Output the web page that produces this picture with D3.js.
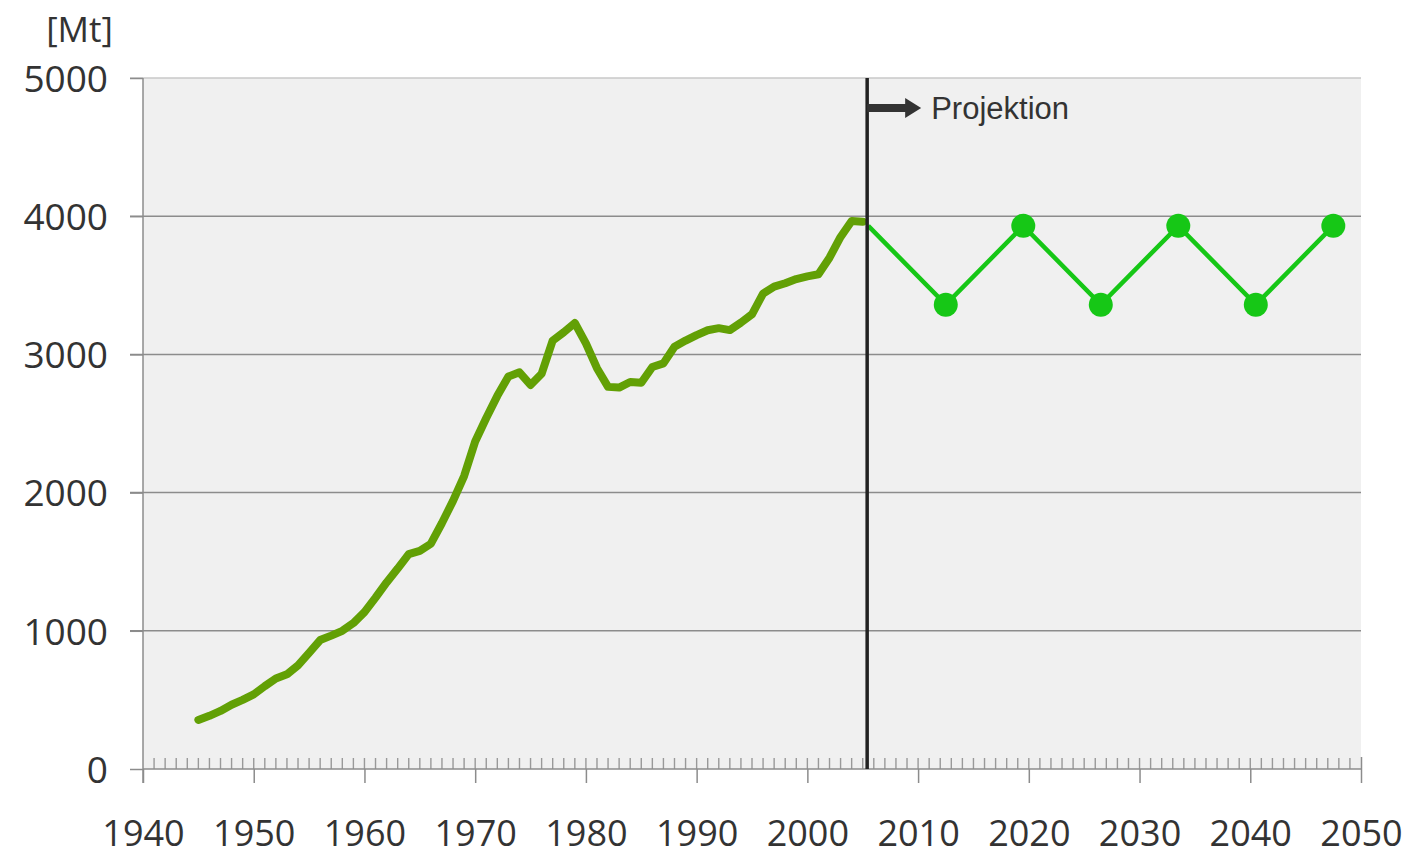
<!DOCTYPE html>
<html>
<head>
<meta charset="utf-8">
<script src="https://cdn.jsdelivr.net/npm/d3@7"></script>
<style>
  body { margin: 0; background: #fff; }
  #chart text { font-family: "Open Sans", sans-serif; }
</style>
</head>
<body>
<div id="chart"></div>
<script>
// historical series, one value per year [Mt]
var years_hist = [1945,1946,1947,1948,1949,1950,1951,1952,1953,1954,
                  1955,1956,1957,1958,1959,1960,1961,1962,1963,1964,
                  1965,1966,1967,1968,1969,1970,1971,1972,1973,1974,
                  1975,1976,1977,1978,1979,1980,1981,1982,1983,1984,
                  1985,1986,1987,1988,1989,1990,1991,1992,1993,1994,
                  1995,1996,1997,1998,1999,2000,2001,2002,2003,2004,2005];
var values_hist = [355,385,420,465,500,540,600,655,685,750,
                   840,933,965,1000,1056,1135,1240,1350,1450,1555,
                   1578,1630,1780,1940,2120,2370,2540,2700,2840,2870,
                   2779,2860,3100,3160,3227,3080,2900,2765,2760,2800,
                   2795,2909,2935,3055,3100,3140,3175,3190,3176,3230,
                   3290,3440,3490,3515,3545,3565,3580,3700,3850,3965,3960];

// projection series
var years_proj = [2005.5, 2012.5, 2019.5, 2026.5, 2033.5, 2040.5, 2047.5];
var values_proj = [3930, 3360, 3930, 3360, 3930, 3360, 3930];

var y_ticks = [0, 1000, 2000, 3000, 4000, 5000];
var x_ticks = [1940, 1950, 1960, 1970, 1980, 1990, 2000, 2010, 2020, 2030, 2040, 2050];
var projection_year = 2005.4;
var projection_label = "Projektion";
var unit_label = "[Mt]";

var full_width = 1412, full_height = 856;
var margin = {'top': 78, 'right': 51, 'bottom': 87, 'left': 143};
var width = full_width - margin.left - margin.right;
var height = full_height - margin.top - margin.bottom;

var svg = d3.select("#chart")
            .append("svg")
            .attr("width", full_width)
            .attr("height", full_height);

var g = svg.append("g")
           .attr("transform", "translate(" + margin.left + "," + margin.top + ")");

var x = d3.scaleLinear().domain([1940, 2050]).range([0, width]);
var y = d3.scaleLinear().domain([0, 5000]).range([height, 0]);

// plot background
g.append("rect")
 .attr("x", 0).attr("y", 0)
 .attr("width", width).attr("height", height)
 .attr("fill", "#f0f0f0");

// gridlines
g.selectAll(".grid")
 .data(y_ticks.filter(d => d > 0))
 .enter().append("line")
 .attr("class", "grid")
 .attr("x1", -13).attr("x2", width)
 .attr("y1", d => y(d)).attr("y2", d => y(d))
 .attr("stroke", d => d == 5000 ? "#c8c8c8" : "#8c8c8c")
 .attr("stroke-width", 1.5);

// y axis
var y_axis = d3.axisLeft(y).tickValues(y_ticks).tickSize(13).tickPadding(22)
               .tickFormat(d3.format("d"));
var gy = g.append("g").call(y_axis);
gy.select(".domain").attr("stroke", "#8c8c8c").attr("stroke-width", 1.5)
  .attr("d", "M0," + (height + 14) + "V0");
gy.selectAll(".tick line").attr("stroke", "#8c8c8c").attr("stroke-width", 1.5);
gy.selectAll(".tick text").attr("font-size", "37px").attr("fill", "#333")
  .attr("dy", "0.36em");

// x axis, minor ticks every year pointing up
var minor_years = d3.range(1941, 2050);
g.selectAll(".minor")
 .data(minor_years)
 .enter().append("line")
 .attr("class", "minor")
 .attr("x1", d => x(d)).attr("x2", d => x(d))
 .attr("y1", height - 11).attr("y2", height)
 .attr("stroke", "#999")
 .attr("stroke-width", 1.4);

var x_axis = d3.axisBottom(x).tickValues(x_ticks).tickSize(14).tickPadding(45)
               .tickFormat(d3.format("d"));
var gx = g.append("g").attr("transform", "translate(0," + height + ")").call(x_axis);
gx.select(".domain").attr("stroke", "#8c8c8c").attr("stroke-width", 1.5)
  .attr("d", "M0,0H" + width);
gx.selectAll(".tick line").attr("stroke", "#8c8c8c").attr("stroke-width", 1.5);
gx.selectAll(".tick text").attr("font-size", "36px").attr("fill", "#333")
  .attr("dy", "0.5em");
gx.select(".tick:last-of-type line").attr("y1", -12);

// unit label
g.append("text")
 .attr("x", -30).attr("y", -36)
 .attr("text-anchor", "end")
 .attr("font-size", "35px")
 .attr("fill", "#333")
 .text(unit_label);

// historical line
var hist = years_hist.map((d, i) => ({year: d, value: values_hist[i]}));
var line = d3.line().x(d => x(d.year)).y(d => y(d.value));

g.append("path")
 .datum(hist)
 .attr("d", line)
 .attr("fill", "none")
 .attr("stroke", "#62a005")
 .attr("stroke-width", 8)
 .attr("stroke-linejoin", "round")
 .attr("stroke-linecap", "round");

// projection line and markers
var proj = years_proj.map((d, i) => ({year: d, value: values_proj[i]}));

g.append("path")
 .datum(proj)
 .attr("d", line)
 .attr("fill", "none")
 .attr("stroke", "#16c716")
 .attr("stroke-width", 4.5);

g.selectAll(".marker")
 .data(proj.slice(1))
 .enter().append("circle")
 .attr("class", "marker")
 .attr("cx", d => x(d.year))
 .attr("cy", d => y(d.value))
 .attr("r", 12)
 .attr("fill", "#16c716");

// projection divider
var px = x(projection_year);
g.append("line")
 .attr("x1", px).attr("x2", px)
 .attr("y1", 0).attr("y2", height)
 .attr("stroke", "#222")
 .attr("stroke-width", 3.5);

// arrow
var ay = 30;
g.append("path")
 .attr("d", "M" + px + "," + (ay - 4) + "H" + (px + 38) + "V" + (ay - 10) +
            "L" + (px + 54) + "," + ay + "L" + (px + 38) + "," + (ay + 10) +
            "V" + (ay + 4) + "H" + px + "Z")
 .attr("fill", "#333");

g.append("text")
 .attr("x", px + 64).attr("y", ay + 11)
 .attr("font-size", "31px")
 .style("font-family", "'Liberation Sans', Arial, sans-serif")
 .attr("fill", "#333")
 .text(projection_label);
</script>
</body>
</html>
